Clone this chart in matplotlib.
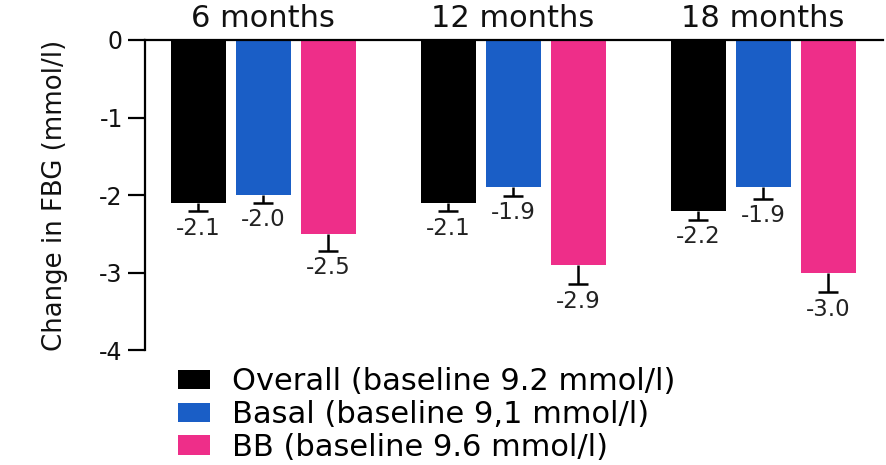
import numpy as np
import matplotlib.pyplot as plt

plt.rcParams['font.family'] = ['DejaVu Sans']
plt.rcParams['axes.unicode_minus'] = False

periods = ['6 months', '12 months', '18 months']
groups = ['Overall (baseline 9.2 mmol/l)',
          'Basal (baseline 9,1 mmol/l)',
          'BB (baseline 9.6 mmol/l)']
colors = ['#000000', '#1a5ec6', '#ee2e89']

# mean change in FBG (mmol/l): one row per group, one column per period
change = np.array([
    [-2.1, -2.1, -2.2],
    [-2.0, -1.9, -1.9],
    [-2.5, -2.9, -3.0],
])
# lower error bar length (mmol/l)
err = np.array([
    [0.11, 0.11, 0.12],
    [0.10, 0.11, 0.15],
    [0.22, 0.25, 0.25],
])

fig = plt.figure(figsize=(8.87, 4.65), dpi=100)
ax = fig.add_axes([0.1635, 0.247, 0.832, 0.667])

x = np.arange(len(periods))
width = 0.22
step = 0.26
cap = 0.04

for i, (name, color) in enumerate(zip(groups, colors)):
    xs = x + (i - 1) * step
    ax.bar(xs, change[i], width, color=color, label=name)
    low = change[i] - err[i]
    ax.vlines(xs, low, change[i], color='black', lw=1.8)
    ax.hlines(low, xs - cap, xs + cap, color='black', lw=1.8)
    for xi, lo, v in zip(xs, low, change[i]):
        ax.annotate(f'{v:.1f}', (xi, lo), xytext=(0, -4), textcoords='offset points',
                    ha='center', va='top', fontsize=16.5, color='#222222')

# period headings above the zero line
for xi, p in zip(x, periods):
    ax.annotate(p, (xi, 0), xytext=(0, 9), textcoords='offset points',
                ha='center', va='baseline', fontsize=22, color='#111111')

ax.set_xlim(-0.472, 2.48)
ax.set_ylim(-4, 0)
ax.set_yticks([0, -1, -2, -3, -4])
ax.spines['right'].set_visible(False)
ax.spines['bottom'].set_visible(False)
ax.spines['top'].set_linewidth(1.6)
ax.spines['left'].set_linewidth(1.6)
ax.tick_params(axis='y', length=12, width=1.6, pad=4, labelsize=17, labelcolor='#111111')
ax.tick_params(axis='x', bottom=False, labelbottom=False)

ax.set_ylabel('Change in FBG (mmol/l)', fontsize=18.7, color='#111111')
ax.yaxis.set_label_coords(-0.104, 0.5)

ax.legend(loc='upper left', bbox_to_anchor=(178 / 887, 0.21), bbox_transform=fig.transFigure,
          frameon=False, fontsize=22, handlelength=1.05, handleheight=0.6,
          handletextpad=0.72, labelspacing=0.12, borderpad=0, borderaxespad=0)

fig.savefig('out.png', dpi=100)
